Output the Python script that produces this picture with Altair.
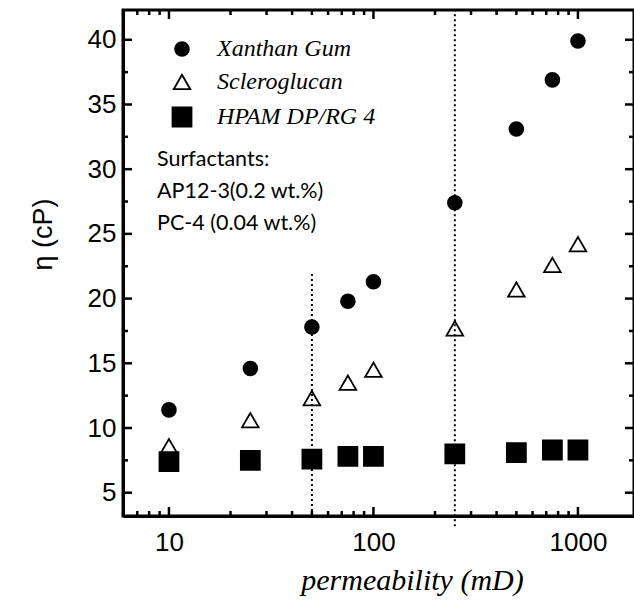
import math
import altair as alt
import pandas as pd

# Permeability of the cores (mD) and measured viscosity (cP) for each polymer
perm = [10, 25, 50, 75, 100, 250, 500, 750, 1000]
xanthan = [11.4, 14.6, 17.8, 19.8, 21.3, 27.4, 33.1, 36.9, 39.9]
sclero = [8.6, 10.6, 12.3, 13.5, 14.5, 17.7, 20.7, 22.6, 24.2]
hpam = [7.4, 7.5, 7.6, 7.8, 7.8, 8.0, 8.1, 8.3, 8.3]
series = ["Xanthan Gum", "Scleroglucan", "HPAM DP/RG 4"]

# Reference permeabilities marked with dotted lines (x, top, bottom in cP)
ref_x = [50, 250]
ref_top = [22.0, 42.3]
ref_bottom = [3.2, 2.4]

note_lines = ["Surfactants:", "AP12-3(0.2 wt.%)", "PC-4 (0.04 wt.%)"]

x_major = [10, 100, 1000]
x_minor = [7, 8, 9, 20, 30, 40, 50, 60, 70, 80, 90,
           200, 300, 400, 500, 600, 700, 800, 900]
y_major = [5, 10, 15, 20, 25, 30, 35, 40]
y_minor = [7.5, 12.5, 17.5, 22.5, 27.5, 32.5, 37.5]

X_DOMAIN = [5.96, 1880]
Y_DOMAIN = [3.2, 42.3]
W, H = 511, 506
MAJOR, MINOR = 9, 5

# pixel offsets expressed in axis units (used to centre the inward ticks)
px_per_y = H / (Y_DOMAIN[1] - Y_DOMAIN[0])
px_per_decade = W / (math.log10(X_DOMAIN[1]) - math.log10(X_DOMAIN[0]))


def y_len(px):
    return px / px_per_y


def x_factor(px):
    return 10 ** (px / px_per_decade)


rows = []
for name, vals in zip(series, [xanthan, sclero, hpam]):
    for p, v in zip(perm, vals):
        rows.append({"perm": p, "eta": v, "series": name})
df = pd.DataFrame(rows)
ref_df = pd.DataFrame({"x": ref_x, "top": ref_top, "bottom": ref_bottom})

xscale = alt.Scale(type="log", domain=X_DOMAIN, nice=False)
yscale = alt.Scale(type="linear", domain=Y_DOMAIN, nice=False, zero=False)

# One axis definition per channel, reused by every layer so they merge
x_axis = alt.Axis(
    orient="bottom", values=x_major, format="d", ticks=False, grid=False,
    domain=True, domainWidth=3, domainColor="black",
    labelFont="Liberation Sans", labelFontSize=26, labelColor="black",
    labelPadding=13, labelFlush=False,
    title="permeability (mD)", titleFont="Liberation Serif",
    titleFontStyle="italic", titleFontWeight="normal", titleFontSize=30,
    titleColor="black", titlePadding=10, titleX=289,
)
y_axis = alt.Axis(
    orient="left", values=y_major, ticks=False, grid=False,
    domain=True, domainWidth=3, domainColor="black",
    labelFont="Liberation Sans", labelFontSize=26, labelColor="black",
    labelPadding=7,
    title="η (cP)", titleFont="Liberation Sans", titleFontWeight="normal",
    titleFontSize=27, titleColor="black", titlePadding=30, titleY=224,
)


def X(field):
    return alt.X(field, type="quantitative", scale=xscale, axis=x_axis)


def Y(field):
    return alt.Y(field, type="quantitative", scale=yscale, axis=y_axis)


legend = alt.Legend(
    orient="none", legendX=47, legendY=27, title=None, padding=0,
    labelFont="Liberation Serif", labelFontStyle="italic", labelFontSize=24,
    labelColor="black", labelOffset=23, rowPadding=9,
    symbolStrokeColor="black", symbolStrokeWidth=1.8,
)

points = alt.Chart(df).mark_point(
    filled=True, stroke="black", strokeWidth=1.8, opacity=1, fillOpacity=1
).encode(
    x=X("perm"),
    y=Y("eta"),
    shape=alt.Shape("series:N", scale=alt.Scale(
        domain=series, range=["circle", "triangle-up", "square"]), legend=legend),
    fill=alt.Fill("series:N", scale=alt.Scale(
        domain=series, range=["black", "white", "black"]), legend=legend),
    stroke=alt.Stroke("series:N", scale=alt.Scale(
        domain=series, range=["black", "black", "black"]), legend=legend),
    size=alt.Size("series:N", scale=alt.Scale(
        domain=series, range=[190, 360, 170]), legend=legend),
)

# Dotted reference lines at the two marked permeabilities
ref_lines = alt.Chart(ref_df).mark_rule(
    color="black", strokeWidth=2, strokeDash=[2, 3]
).encode(x=X("x"), y=Y("bottom"), y2="top")


# Inward frame ticks: short line symbols centred half a tick inside each edge
def x_tick_layer(values, length):
    half = y_len(length / 2)
    d = pd.DataFrame(
        [{"v": v, "c": Y_DOMAIN[0] + half} for v in values]
        + [{"v": v, "c": Y_DOMAIN[1] - half} for v in values])
    return alt.Chart(d).mark_point(
        shape="M0,-1L0,1", size=length ** 2, filled=False, stroke="black",
        strokeWidth=2.5, opacity=1,
    ).encode(x=X("v"), y=Y("c"))


def y_tick_layer(values, length):
    f = x_factor(length / 2)
    d = pd.DataFrame(
        [{"v": v, "c": X_DOMAIN[0] * f} for v in values]
        + [{"v": v, "c": X_DOMAIN[1] / f} for v in values])
    return alt.Chart(d).mark_point(
        shape="M-1,0L1,0", size=length ** 2, filled=False, stroke="black",
        strokeWidth=2.5, opacity=1,
    ).encode(x=X("c"), y=Y("v"))


tick_layers = [
    x_tick_layer(x_major, MAJOR), x_tick_layer(x_minor, MINOR),
    y_tick_layer(y_major, MAJOR), y_tick_layer(y_minor, MINOR),
]

note = alt.Chart(pd.DataFrame({"k": [0]})).mark_text(
    text=note_lines, align="left", baseline="alphabetic", font="Lato",
    fontSize=21.5, lineHeight=32, color="black",
).encode(x=alt.value(34), y=alt.value(156))

chart = alt.layer(
    points, ref_lines, *tick_layers, note
).properties(
    width=W, height=H,
    autosize=alt.AutoSizeParams(type="none"),
    padding={"left": 123, "top": 10, "right": 0, "bottom": 91},
    background="white",
).configure_view(stroke="black", strokeWidth=3)

chart.save("out.html", embed_options={"renderer": "svg", "actions": False})
